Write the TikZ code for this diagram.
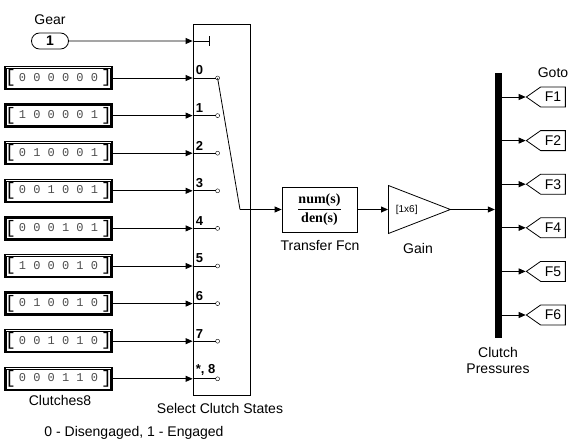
\documentclass[tikz,border=0pt]{standalone}
\usepackage{fontspec}
\setmainfont{Liberation Sans}
\newfontfamily\monofont{Liberation Mono}
\newfontfamily\tffont{Liberation Serif}
\newcommand{\brkfont}{\fontsize{18}{18}\selectfont}
\usetikzlibrary{arrows.meta, shapes.misc, shapes.geometric, shapes.symbols}

\begin{document}
\begin{tikzpicture}[
	x=1pt, y=-1pt,
	>={Triangle[length=7pt, width=6pt]},
	font=\fontsize{14}{16}\selectfont,
	% Styles for the blocks and signal lines
	sig/.style={->, thick},
	wire/.style={thick},
	inport/.style={draw, thick, rounded rectangle, minimum width=37, minimum height=16, inner sep=0pt},
	constblock/.style={draw, line width=1.3pt, minimum width=107, minimum height=23, inner sep=0pt, font=\monofont\fontsize{12}{12}\selectfont},
	switchbox/.style={draw, thick, minimum width=57, minimum height=371, inner sep=0pt},
	tfbox/.style={draw, thick, minimum width=75, minimum height=45, inner sep=0pt},
	gainbox/.style={draw, thick, isosceles triangle, isosceles triangle stretches, minimum width=48, minimum height=62, inner sep=0pt, font=\fontsize{10}{11}\selectfont},
	busbar/.style={fill=black, minimum width=7, minimum height=265, inner sep=0pt},
	gototag/.style={draw, thick, signal, signal to=west, signal pointer angle=70, minimum width=39, minimum height=20, inner sep=0pt},
	portnum/.style={font=\fontsize{13}{14}\selectfont\bfseries, inner sep=0pt},
	lbl/.style={inner sep=0pt}
	]
	\useasboundingbox (0,0) rectangle (574,442);
	
	% ==========================================
	% 1. MULTIPORT SWITCH WITH ITS INPUTS
	% ==========================================
	\node[switchbox] (sel) at (221.5,209.5) {};
	\node[lbl] at (220,408) {Select Clutch States};
	
	% Control input (gear number)
	\node[inport] (gear) at (50,41) {\textbf{1}};
	\node[lbl] at (50,20) {Gear};
	\draw[sig] (gear) -- (gear -| sel.west);
	\draw[wire, -{Bar[width=10pt]}] (gear -| sel.west) -- ++(17,0);
	
	% Constant clutch patterns, one per switch port
	\foreach \v/\l [count=\i from 0] in {0 0 0 0 0 0/0, 1 0 0 0 0 1/1, 0 1 0 0 0 1/2,
		0 0 1 0 0 1/3, 0 0 0 1 0 1/4, 1 0 0 0 1 0/5, 0 1 0 0 1 0/6, 0 0 1 0 1 0/7, 0 0 0 1 1 0/{*, 8}}
	{
		\node[constblock] (c\i) at (58.5,{78+37.6*\i}) {\raisebox{-1.5pt}{\brkfont[}\hspace{3pt}\textcolor{black!70}{\v}\hspace{3pt}\raisebox{-1.5pt}{\brkfont]}};
		\draw[thin] ([xshift=2.2pt, yshift=-2.2pt] c\i.north west) rectangle ([xshift=-2.2pt, yshift=2.2pt] c\i.south east);
		\draw[sig] (c\i.east) -- (c\i.east -| sel.west);
		\node[portnum, anchor=south west, xshift=3pt, yshift=3pt] at (c\i.east -| sel.west) {\l};
		\coordinate (p\i) at ([xshift=25pt] c\i.east -| sel.west);
		\draw[wire] (c\i.east -| sel.west) -- ([xshift=-2pt] p\i);
		\draw[thin] (p\i) circle (2);
	}
	\node[lbl] at (60,400) {Clutches8};
	
	% ==========================================
	% 2. TRANSFER FUNCTION AND GAIN
	% ==========================================
	\node[tfbox] (tf) at (319.5,209.5) {\tffont\bfseries\fontsize{14}{16}\selectfont
		$\displaystyle\frac{\mbox{num(s)}}{\mbox{den(s)}}$};
	\node[lbl] at (320,246) {Transfer Fcn};
	
	% Switch arm from the selected port
	\coordinate (bend) at (240,209.5);
	\draw[wire] (p0) -- (bend);
	\draw[sig] (bend) -- (tf.west);
	
	\node[gainbox, anchor=lower side] (gain) at (388,209.5) {[1x6]};
	\node[lbl] at (418,248) {Gain};
	\draw[sig] (tf.east) -- (tf.east -| gain.lower side);
	
	% ==========================================
	% 3. DEMUX BAR AND GOTO TAGS
	% ==========================================
	\node[busbar] (bus) at (498.5,205.5) {};
	\node[lbl, align=center] at (498,360) {Clutch\\Pressures};
	\draw[sig] (gain.apex) -- (gain.apex -| bus.west);
	
	\foreach \i in {1,...,6}
	{
		\node[gototag] (g\i) at (553,{97+43.6*(\i-1)}) {F\i};
		\draw[sig] (g\i.west -| bus.east) -- (g\i.west);
	}
	\node[lbl] at (553,73) {Goto};
	
	\node[lbl] at (134,433) {0 - Disengaged, 1 - Engaged};
	
\end{tikzpicture}
\end{document}
